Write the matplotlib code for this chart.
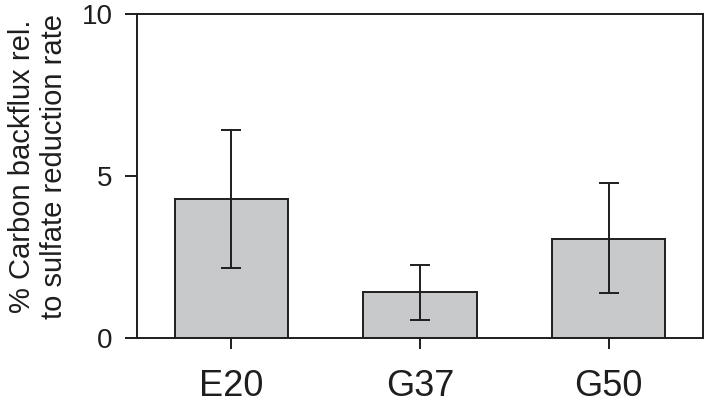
import matplotlib
matplotlib.use('Agg')
import matplotlib.pyplot as plt

plt.rcParams['font.family'] = ['Liberation Sans', 'DejaVu Sans']

# values
sites = ['E20', 'G37', 'G50']
backflux = [4.28, 1.42, 3.06]
err_low = [2.12, 0.87, 1.68]
err_high = [2.13, 0.84, 1.71]

edge = '#1e1e1e'

fig = plt.figure(figsize=(7.08, 4.08), dpi=100)
ax = fig.add_axes([137 / 708, 1 - 338 / 408, (703 - 137) / 708, (338 - 14) / 408])

x = range(len(sites))
ax.bar(x, backflux, width=0.6, color='#c8c9cb', edgecolor=edge, linewidth=1.4,
       zorder=2)
ax.errorbar(x, backflux, yerr=[err_low, err_high], fmt='none', ecolor=edge,
            elinewidth=1.4, capsize=7.5, capthick=1.4, zorder=3)

ax.set_xlim(-0.5, 2.5)
ax.set_ylim(0, 10)
ax.set_yticks([0, 5, 10])
ax.set_xticks(list(x))
ax.set_xticklabels(sites)

for s in ax.spines.values():
    s.set_color(edge)
    s.set_linewidth(1.4)

ax.tick_params(axis='y', direction='out', length=8.6, width=1.4, color=edge,
               labelsize=20, pad=9, labelcolor=edge)
ax.tick_params(axis='x', direction='out', length=8, width=1.4, color=edge,
               labelsize=26, pad=14, labelcolor=edge)

ax.set_ylabel('% Carbon backflux rel.\nto sulfate reduction rate', fontsize=21,
              color=edge, linespacing=1.2)
ax.yaxis.set_label_coords(-0.122, 0.53)

fig.savefig('out.png', dpi=100)
